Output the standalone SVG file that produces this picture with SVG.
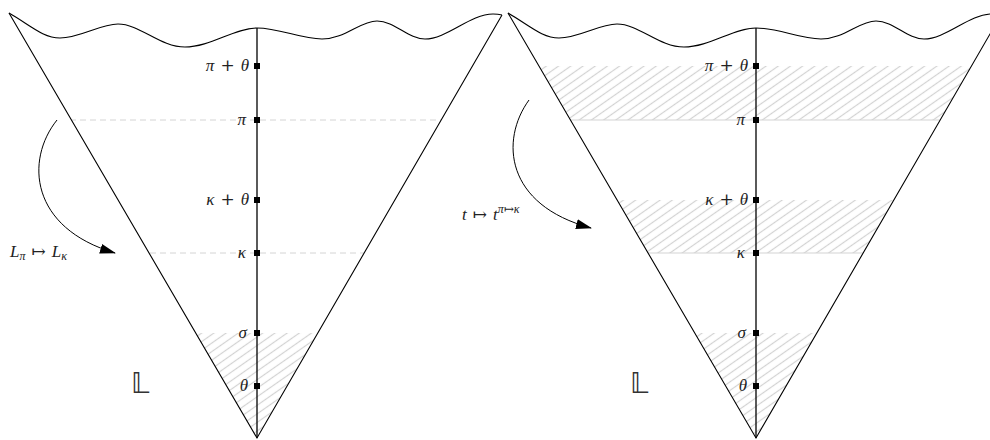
<svg xmlns="http://www.w3.org/2000/svg" width="990" height="440" viewBox="0 0 990 440">
<style>
.edge{fill:none;stroke:#000;stroke-width:1.1}
.axis{stroke:#000;stroke-width:1.3}
.dash{stroke:#d4d4d4;stroke-width:1;stroke-dasharray:6 4}
.solid{stroke:#d4d4d4;stroke-width:1.2}
.lbl{font-family:"Liberation Serif","DejaVu Serif",serif;font-size:17px;fill:#222}
.it{font-style:italic}
.op{font-family:"DejaVu Serif","Liberation Serif",serif;font-style:normal}
.bb{font-family:"DejaVu Sans","DejaVu Serif",sans-serif;font-size:28px;fill:#333}
.arr{fill:none;stroke:#000;stroke-width:1}
</style>
<defs>
<pattern id="hatch" width="7" height="7" patternUnits="userSpaceOnUse" patternTransform="rotate(-35)">
<line x1="0" y1="3.5" x2="7" y2="3.5" stroke="#d2d2d2" stroke-width="1.2"/>
</pattern>
<marker id="ah" viewBox="0 0 16 10" refX="15" refY="5" markerWidth="16" markerHeight="10" markerUnits="userSpaceOnUse" orient="auto">
<path d="M0,0 L16,5 L0,10 z" fill="#000"/>
</marker>
<clipPath id="coneL"><path d="M9,13 L257,438 L502,15 Z"/></clipPath>
<clipPath id="coneR"><path d="M508,13 L756,438 L1001,15 Z"/></clipPath>
<path id="wave" d="M9,13 C30,25 43,38 60,38 C80,38 100,24 118,24 C140,24 160,47 185,47 C210,47 235,28 257,28 C280,28 300,39 322,39 C345,39 360,21 377,21 C395,21 408,39 425,39 C447,39 470,14 493,14 C497,14 500,14.5 502,15"/>
</defs>

<g id="cone-left">
<g clip-path="url(#coneL)">
<rect x="150" y="333" width="220" height="110" fill="url(#hatch)"/>
<line class="dash" x1="60" y1="120" x2="450" y2="120"/>
<line class="dash" x1="140" y1="253" x2="370" y2="253"/>
</g>
<use href="#wave" class="edge"/>
<path class="edge" d="M9,13 L257,438 L502,15"/>
<line class="axis" x1="257" y1="28" x2="257" y2="438"/>
</g>

<g id="cone-right">
<g clip-path="url(#coneR)">
<rect x="520" y="66" width="480" height="54" fill="url(#hatch)"/>
<rect x="580" y="200" width="350" height="53" fill="url(#hatch)"/>
<rect x="650" y="333" width="220" height="110" fill="url(#hatch)"/>
<line class="solid" x1="520" y1="120" x2="990" y2="120"/>
<line class="solid" x1="600" y1="253" x2="920" y2="253"/>
</g>
<use href="#wave" class="edge" transform="translate(499,0)"/>
<path class="edge" d="M508,13 L756,438 L1001,15"/>
<line class="axis" x1="756" y1="28" x2="756" y2="438"/>
</g>

<g id="points-left">
<rect x="254" y="63" width="6" height="6"/>
<rect x="254" y="117" width="6" height="6"/>
<rect x="254" y="197" width="6" height="6"/>
<rect x="254" y="250" width="6" height="6"/>
<rect x="254" y="330" width="6" height="6"/>
<rect x="254" y="383" width="6" height="6"/>
<g class="lbl" text-anchor="end">
<text x="249" y="71"><tspan class="it">π</tspan><tspan class="op" dx="6">+</tspan><tspan class="it" dx="6">θ</tspan></text>
<text x="246" y="125" class="it">π</text>
<text x="249" y="205"><tspan class="it">κ</tspan><tspan class="op" dx="6">+</tspan><tspan class="it" dx="6">θ</tspan></text>
<text x="246" y="258" class="it">κ</text>
<text x="247" y="338" class="it">σ</text>
<text x="248" y="391" class="it">θ</text>
</g>
<text class="bb" x="131" y="393">𝕃</text>
</g>

<g id="points-right">
<rect x="753" y="63" width="6" height="6"/>
<rect x="753" y="117" width="6" height="6"/>
<rect x="753" y="197" width="6" height="6"/>
<rect x="753" y="250" width="6" height="6"/>
<rect x="753" y="330" width="6" height="6"/>
<rect x="753" y="383" width="6" height="6"/>
<g class="lbl" text-anchor="end">
<text x="748" y="71"><tspan class="it">π</tspan><tspan class="op" dx="6">+</tspan><tspan class="it" dx="6">θ</tspan></text>
<text x="745" y="125" class="it">π</text>
<text x="748" y="205"><tspan class="it">κ</tspan><tspan class="op" dx="6">+</tspan><tspan class="it" dx="6">θ</tspan></text>
<text x="745" y="258" class="it">κ</text>
<text x="746" y="338" class="it">σ</text>
<text x="747" y="391" class="it">θ</text>
</g>
<text class="bb" x="630" y="393">𝕃</text>
</g>

<g id="connectors">
<path class="arr" d="M57,120 C25,160 30,228 115,253" marker-end="url(#ah)"/>
<path class="arr" d="M529,100 C500,140 505,205 591,228" marker-end="url(#ah)"/>
</g>

<g id="arrow-labels" class="lbl" font-size="18">
<text x="10" y="257"><tspan class="it">L</tspan><tspan class="it" font-size="12" dy="3">π</tspan><tspan class="op" dy="-3" dx="6">↦</tspan><tspan class="it" dx="6">L</tspan><tspan class="it" font-size="12" dy="3">κ</tspan></text>
<text x="462" y="220"><tspan class="it">t</tspan><tspan class="op" dx="6">↦</tspan><tspan class="it" dx="6">t</tspan><tspan font-size="12" dy="-7"><tspan class="it">π</tspan><tspan class="op">↦</tspan><tspan class="it">κ</tspan></tspan></text>
</g>
</svg>
